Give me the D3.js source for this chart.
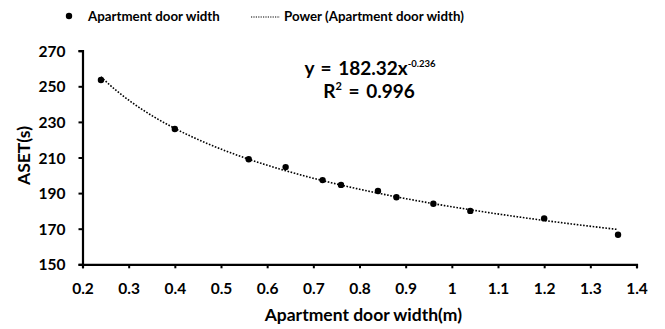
<!DOCTYPE html>
<html>
<head>
<meta charset="utf-8">
<script src="https://cdn.jsdelivr.net/npm/d3@7"></script>
<style>
  html, body { margin: 0; padding: 0; background: #fff; }
  svg { display: block; font-family: Lato, "Open Sans", sans-serif; font-weight: bold; }
</style>
</head>
<body>
<svg id="chart" width="665" height="329"></svg>
<script>
// Door width (m) and available safe egress time (s)
const doorWidth = [0.24, 0.40, 0.56, 0.64, 0.72, 0.76, 0.84, 0.88, 0.96, 1.04, 1.20, 1.36];
const aset      = [253.5, 226.0, 209.0, 204.6, 197.3, 194.6, 191.2, 187.7, 184.0, 180.0, 175.8, 166.6];

// Power trend line y = a * x^b
const fitA = 182.32;
const fitB = -0.236;
const fitR2 = 0.996;

const xTicks = [0.2, 0.3, 0.4, 0.5, 0.6, 0.7, 0.8, 0.9, 1.0, 1.1, 1.2, 1.3, 1.4];
const yTicks = [150, 170, 190, 210, 230, 250, 270];

const svg = d3.select("#chart");
const plotLeft = 82.5, plotRight = 636.5, plotTop = 50.7, plotBottom = 264.3;

const x = d3.scaleLinear().domain([0.2, 1.4]).range([plotLeft, plotRight]);
const y = d3.scaleLinear().domain([150, 270]).range([plotBottom, plotTop]);

// Axes
const xAxis = d3.axisBottom(x).tickValues(xTicks).tickSize(4).tickSizeOuter(4)
  .tickFormat(d => d === 1 ? "1" : d3.format(".1f")(d));
const yAxis = d3.axisLeft(y).tickValues(yTicks).tickSize(4).tickSizeOuter(4);

const gx = svg.append("g").attr("transform", `translate(0,${plotBottom})`).call(xAxis);
const gy = svg.append("g").attr("transform", `translate(${plotLeft},0)`).call(yAxis);

[gx, gy].forEach(g => {
  g.select(".domain").attr("stroke", "#000").attr("stroke-width", 2.2);
  g.selectAll(".tick line").attr("stroke", "#000").attr("stroke-width", 2);
  g.selectAll(".tick text").attr("fill", "#000")
    .style("font-family", "Lato, sans-serif").style("font-weight", "bold").style("font-size", "15.5px");
});
gx.selectAll(".tick text").attr("dy", null).attr("y", 30);
gy.selectAll(".tick text").attr("x", -17).attr("dy", "0.36em");

// Axis titles
svg.append("text")
  .attr("x", 363.3).attr("y", 321)
  .attr("text-anchor", "middle").style("font-size", "17.5px")
  .text("Apartment door width(m)");

svg.append("text")
  .attr("transform", `translate(29.5,155.5) rotate(-90)`)
  .attr("text-anchor", "middle").style("font-size", "17.5px")
  .text("ASET(s)");

// Trend line over the data's x extent
const xMin = d3.min(doorWidth), xMax = d3.max(doorWidth);
const xs = d3.range(0, 201).map(i => xMin + i * (xMax - xMin) / 200);
const line = d3.line().x(d => x(d)).y(d => y(fitA * Math.pow(d, fitB)));
svg.append("path")
  .datum(xs)
  .attr("d", line)
  .attr("fill", "none")
  .attr("stroke", "#000")
  .attr("stroke-width", 1.6)
  .attr("stroke-dasharray", "1.6,1.6");

// Data points
svg.append("g").selectAll("circle")
  .data(doorWidth.map((d, i) => [d, aset[i]]))
  .join("circle")
  .attr("cx", d => x(d[0]))
  .attr("cy", d => y(d[1]))
  .attr("r", 3.2)
  .attr("fill", "#000");

// Equation label
const eq = svg.append("text")
  .attr("x", 370).attr("y", 75)
  .attr("text-anchor", "middle").style("font-size", "19px").style("word-spacing", "2px");
eq.append("tspan").text(`y = ${fitA}x`);
eq.append("tspan").attr("dy", -8).style("font-size", "9.5px").text(fitB.toString());

const r2 = svg.append("text")
  .attr("x", 369).attr("y", 98.3)
  .attr("text-anchor", "middle").style("font-size", "19px").style("word-spacing", "2px");
r2.append("tspan").text("R");
r2.append("tspan").attr("dy", -8).style("font-size", "11px").text("2");
r2.append("tspan").attr("dy", 8).text(` = ${fitR2}`);

// Legend
const legend = svg.append("g");
legend.append("circle").attr("cx", 69).attr("cy", 16).attr("r", 3.2).attr("fill", "#000");
legend.append("text").attr("x", 88).attr("y", 20.7).style("font-size", "13.3px").text("Apartment door width");
legend.append("line")
  .attr("x1", 251).attr("x2", 280).attr("y1", 17).attr("y2", 17)
  .attr("stroke", "#000").attr("stroke-width", 1.2).attr("stroke-dasharray", "1.2,1.2");
legend.append("text").attr("x", 284).attr("y", 20.7).style("font-size", "13.3px").text("Power (Apartment door width)");
</script>
</body>
</html>
